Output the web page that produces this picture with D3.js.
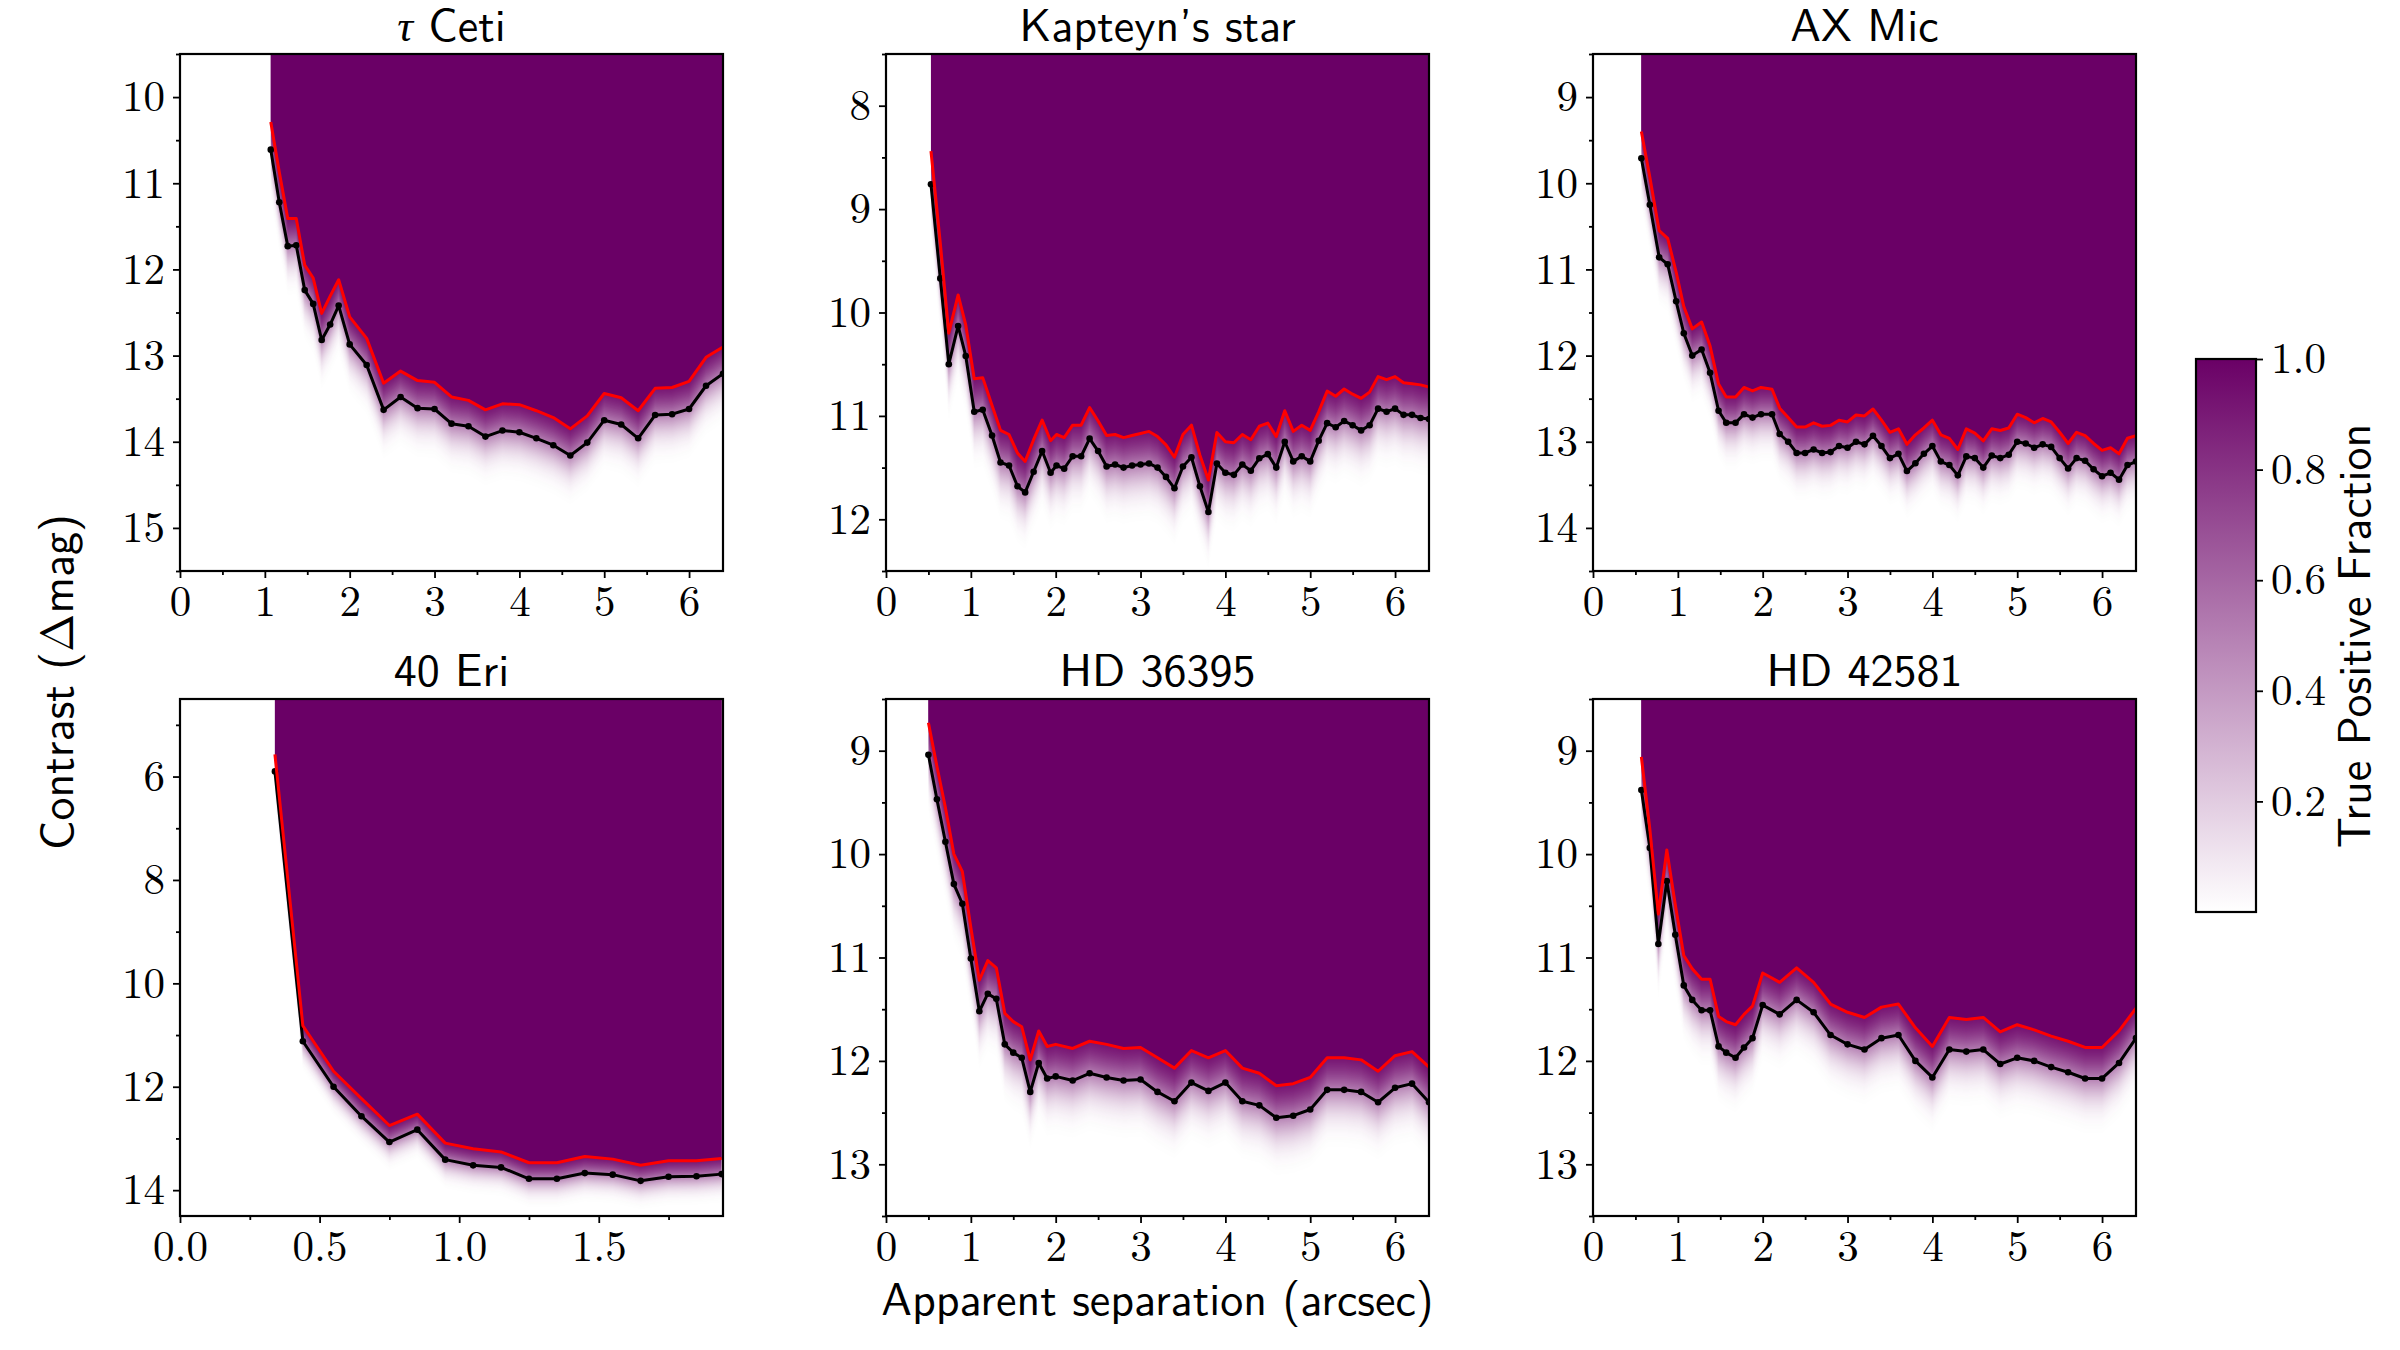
<!DOCTYPE html>
<html>
<head>
<meta charset="utf-8">
<script src="https://cdn.jsdelivr.net/npm/d3@7"></script>
<style>
  body { margin: 0; background: #fff; }
  svg { display: block; }
</style>
</head>
<body>
<div id="chart"></div>
<script>
// ---- data ----
const panelNames = ["τ Ceti", "Kapteyn’s star", "AX Mic", "40 Eri", "HD 36395", "HD 42581"];

// tau Ceti
const tauCetiSep   = [1.07,1.17,1.27,1.37,1.47,1.57,1.67,1.77,1.87,2.0,2.2,2.4,2.6,2.8,3.0,3.2,3.4,3.6,3.8,4.0,4.2,4.4,4.6,4.8,5.0,5.2,5.4,5.6,5.8,6.0,6.2,6.4];
const tauCetiBlack = [10.61,11.22,11.73,11.72,12.24,12.40,12.82,12.64,12.42,12.87,13.11,13.63,13.48,13.61,13.62,13.79,13.82,13.94,13.87,13.89,13.96,14.04,14.16,14.01,13.75,13.80,13.96,13.69,13.68,13.62,13.35,13.21];
const tauCetiRed   = [10.29,10.87,11.41,11.41,11.95,12.10,12.51,12.31,12.12,12.55,12.80,13.32,13.18,13.29,13.31,13.48,13.52,13.63,13.56,13.57,13.64,13.72,13.85,13.70,13.44,13.49,13.64,13.38,13.37,13.30,13.02,12.90];

// Kapteyn's star
const kapteynSep   = [0.53,0.64,0.74,0.85,0.94,1.04,1.14,1.25,1.35,1.45,1.55,1.64,1.74,1.84,1.94,2.01,2.1,2.2,2.3,2.4,2.5,2.6,2.7,2.8,2.9,3.0,3.1,3.2,3.3,3.4,3.5,3.6,3.7,3.8,3.9,4.0,4.1,4.2,4.3,4.4,4.5,4.6,4.7,4.8,4.9,5.0,5.1,5.2,5.3,5.4,5.5,5.6,5.7,5.8,5.9,6.0,6.1,6.2,6.3,6.4];
const kapteynBlack = [8.76,9.67,10.50,10.13,10.42,10.96,10.94,11.19,11.45,11.48,11.68,11.74,11.54,11.34,11.55,11.48,11.51,11.39,11.39,11.22,11.34,11.49,11.47,11.50,11.48,11.47,11.46,11.50,11.59,11.70,11.49,11.40,11.68,11.93,11.46,11.55,11.57,11.47,11.53,11.41,11.37,11.50,11.25,11.44,11.39,11.44,11.24,11.07,11.11,11.05,11.09,11.14,11.09,10.93,10.96,10.93,10.99,10.99,11.02,11.03];
const kapteynRed   = [8.44,9.33,10.20,9.83,10.12,10.64,10.63,10.90,11.14,11.18,11.36,11.44,11.23,11.04,11.24,11.18,11.21,11.09,11.09,10.92,11.05,11.19,11.18,11.21,11.19,11.17,11.15,11.20,11.28,11.40,11.18,11.09,11.38,11.62,11.16,11.25,11.26,11.18,11.23,11.10,11.07,11.20,10.95,11.15,11.09,11.14,10.96,10.76,10.81,10.74,10.79,10.83,10.77,10.62,10.65,10.62,10.68,10.69,10.70,10.72];

// AX Mic
const axMicSep   = [0.57,0.67,0.78,0.88,0.98,1.07,1.17,1.28,1.38,1.48,1.57,1.68,1.78,1.88,1.98,2.11,2.2,2.3,2.4,2.5,2.6,2.7,2.8,2.9,3.0,3.1,3.2,3.3,3.4,3.5,3.6,3.7,3.8,3.9,4.0,4.1,4.2,4.3,4.4,4.5,4.6,4.7,4.8,4.9,5.0,5.1,5.2,5.3,5.4,5.5,5.6,5.7,5.8,5.9,6.0,6.1,6.2,6.3,6.4];
const axMicBlack = [9.71,10.25,10.86,10.94,11.37,11.74,12.00,11.93,12.20,12.64,12.78,12.78,12.68,12.72,12.68,12.68,12.91,13.00,13.13,13.13,13.09,13.13,13.12,13.05,13.07,13.00,13.03,12.93,13.05,13.19,13.14,13.34,13.25,13.14,13.05,13.23,13.27,13.39,13.17,13.19,13.30,13.16,13.19,13.15,13.00,13.02,13.07,13.03,13.06,13.19,13.31,13.19,13.22,13.32,13.40,13.36,13.44,13.27,13.23];
const axMicRed   = [9.40,9.93,10.55,10.64,11.03,11.43,11.69,11.61,11.89,12.33,12.48,12.48,12.37,12.41,12.37,12.39,12.61,12.72,12.83,12.83,12.78,12.82,12.81,12.75,12.77,12.69,12.70,12.62,12.75,12.89,12.85,13.03,12.92,12.84,12.75,12.92,12.96,13.09,12.85,12.90,12.99,12.85,12.87,12.84,12.68,12.72,12.78,12.73,12.77,12.89,13.02,12.89,12.93,13.02,13.10,13.07,13.14,12.96,12.93];

// 40 Eri
const eri40Sep   = [0.34,0.44,0.55,0.65,0.75,0.85,0.95,1.05,1.15,1.25,1.35,1.45,1.55,1.65,1.75,1.85,1.94];
const eri40Black = [5.90,11.12,12.00,12.57,13.07,12.83,13.41,13.52,13.56,13.78,13.78,13.67,13.70,13.82,13.74,13.73,13.69];
const eri40Red   = [5.57,10.82,11.70,12.23,12.75,12.53,13.09,13.20,13.26,13.47,13.47,13.35,13.40,13.52,13.43,13.43,13.39];

// HD 36395
const hd36395Sep   = [0.50,0.60,0.70,0.80,0.90,1.0,1.1,1.2,1.3,1.4,1.5,1.6,1.7,1.8,1.9,2.0,2.2,2.4,2.6,2.8,3.0,3.2,3.4,3.6,3.8,4.0,4.2,4.4,4.6,4.8,5.0,5.2,5.4,5.6,5.8,6.0,6.2,6.4];
const hd36395Black = [9.04,9.47,9.88,10.29,10.48,11.01,11.52,11.35,11.40,11.84,11.92,11.97,12.30,12.02,12.17,12.15,12.19,12.12,12.16,12.19,12.18,12.30,12.39,12.21,12.29,12.21,12.39,12.43,12.55,12.53,12.47,12.28,12.28,12.30,12.40,12.26,12.22,12.40];
const hd36395Red   = [8.73,9.15,9.55,10.00,10.17,10.71,11.22,11.03,11.10,11.54,11.62,11.67,11.99,11.71,11.86,11.84,11.88,11.81,11.84,11.88,11.87,11.97,12.07,11.90,11.97,11.90,12.07,12.12,12.24,12.22,12.16,11.97,11.97,11.99,12.10,11.95,11.91,12.06];

// HD 42581
const hd42581Sep   = [0.57,0.67,0.77,0.87,0.97,1.07,1.17,1.28,1.38,1.48,1.57,1.68,1.78,1.88,2.0,2.2,2.4,2.6,2.8,3.0,3.2,3.4,3.6,3.8,4.0,4.2,4.4,4.6,4.8,5.0,5.2,5.4,5.6,5.8,6.0,6.2,6.4];
const hd42581Black = [9.38,9.94,10.87,10.26,10.78,11.27,11.41,11.51,11.51,11.86,11.92,11.97,11.87,11.78,11.46,11.55,11.41,11.53,11.75,11.84,11.89,11.78,11.75,12.00,12.16,11.89,11.91,11.89,12.03,11.97,12.00,12.06,12.11,12.17,12.17,12.02,11.78];
const hd42581Red   = [9.06,9.76,10.58,9.96,10.49,10.98,11.11,11.21,11.21,11.57,11.62,11.65,11.55,11.47,11.15,11.24,11.10,11.24,11.45,11.53,11.58,11.48,11.45,11.68,11.86,11.58,11.60,11.58,11.72,11.65,11.70,11.76,11.81,11.87,11.87,11.71,11.49];

// axis ranges and tick labels
const xDomains = [[0, 6.4], [0, 6.4], [0, 6.4], [0, 1.945], [0, 6.4], [0, 6.4]];
const yDomains = [[9.5, 15.5], [7.5, 12.5], [8.5, 14.5], [4.5, 14.5], [8.5, 13.5], [8.5, 13.5]];
const xTicksSep = [0, 1, 2, 3, 4, 5, 6];
const xTicks40Eri = [0.0, 0.5, 1.0, 1.5];
const yTickLists = [
  [10, 11, 12, 13, 14, 15],
  [8, 9, 10, 11, 12],
  [9, 10, 11, 12, 13, 14],
  [6, 8, 10, 12, 14],
  [9, 10, 11, 12, 13],
  [9, 10, 11, 12, 13]
];
const colorbarTicks = [0.2, 0.4, 0.6, 0.8, 1.0];

// ---- layout ----
const W = 2400, H = 1350;
const colX = [180, 886, 1593], rowY = [54, 699];
const pw = 543, ph = 517;
const purple = "#6a0066";
const sansFont = "Latin Modern Sans, DejaVu Sans, sans-serif";
const sansSize = 46;
const serifFont = "Latin Modern Roman, Liberation Serif, serif";
const tickSize = 43;

const panels = panelNames.map((name, i) => ({
  name: name,
  sep: [tauCetiSep, kapteynSep, axMicSep, eri40Sep, hd36395Sep, hd42581Sep][i],
  black: [tauCetiBlack, kapteynBlack, axMicBlack, eri40Black, hd36395Black, hd42581Black][i],
  red: [tauCetiRed, kapteynRed, axMicRed, eri40Red, hd36395Red, hd42581Red][i],
  xDomain: xDomains[i],
  yDomain: yDomains[i],
  xTicks: i === 3 ? xTicks40Eri : xTicksSep,
  yTicks: yTickLists[i]
}));

const svg = d3.select("#chart")
  .append("svg")
  .attr("width", W)
  .attr("height", H);

const defs = svg.append("defs");

function minorTicks(domain, majors) {
  const step = (majors[1] - majors[0]) / 2;
  const out = [];
  for (let v = Math.ceil(domain[0] / step) * step; v <= domain[1] + 1e-9; v += step) {
    if (!majors.some(m => Math.abs(m - v) < 1e-6)) out.push(+v.toFixed(4));
  }
  return out;
}

function styleAxis(sel) {
  sel.attr("font-family", serifFont).attr("font-size", tickSize);
  sel.select(".domain").remove();
  sel.selectAll(".tick line").attr("stroke", "#000").attr("stroke-width", 1.8);
  sel.selectAll(".tick text").attr("fill", "#000");
}

panels.forEach((p, i) => {
  const col = i % 3, row = Math.floor(i / 3);
  const g = svg.append("g")
    .attr("transform", `translate(${colX[col]},${rowY[row]})`);

  const x = d3.scaleLinear().domain(p.xDomain).range([0, pw]);
  const y = d3.scaleLinear().domain(p.yDomain).range([0, ph]);

  const pts = p.sep.map((s, k) => ({ sep: s, black: p.black[k], red: p.red[k] }));

  defs.append("clipPath").attr("id", `clip${i}`)
    .append("rect").attr("width", pw).attr("height", ph);

  // vertical-only blur turns the hard edge into the fading detection fraction
  const sigma = d3.mean(pts, d => y(d.black) - y(d.red)) / 1.35;
  defs.append("filter")
    .attr("id", `fade${i}`)
    .attr("filterUnits", "userSpaceOnUse")
    .attr("x", -30).attr("y", -300)
    .attr("width", pw + 60).attr("height", ph + 600)
    .append("feGaussianBlur")
    .attr("stdDeviation", `0 ${sigma.toFixed(2)}`);

  const plot = g.append("g").attr("clip-path", `url(#clip${i})`);

  plot.append("path")
    .datum(pts)
    .attr("fill", purple)
    .attr("filter", `url(#fade${i})`)
    .attr("d", d3.area().x(d => x(d.sep)).y0(-150).y1(d => y(d.black)));

  plot.append("path")
    .datum(pts)
    .attr("fill", purple)
    .attr("d", d3.area().x(d => x(d.sep)).y0(-150).y1(d => y(d.red)));

  // black curve with markers
  plot.append("path")
    .datum(pts)
    .attr("fill", "none")
    .attr("stroke", "#000")
    .attr("stroke-width", 3)
    .attr("stroke-linejoin", "round")
    .attr("d", d3.line().x(d => x(d.sep)).y(d => y(d.black)));

  plot.selectAll(".dot")
    .data(pts)
    .join("circle")
    .attr("class", "dot")
    .attr("cx", d => x(d.sep))
    .attr("cy", d => y(d.black))
    .attr("r", 3.3)
    .attr("fill", "#000");

  // red curve
  plot.append("path")
    .datum(pts)
    .attr("fill", "none")
    .attr("stroke", "#ff0000")
    .attr("stroke-width", 3)
    .attr("stroke-linejoin", "round")
    .attr("d", d3.line().x(d => x(d.sep)).y(d => y(d.red)));

  // axes
  const xFmt = i === 3 ? d3.format(".1f") : d3.format("d");
  g.append("g")
    .attr("transform", `translate(0,${ph})`)
    .call(d3.axisBottom(x).tickValues(minorTicks(p.xDomain, p.xTicks)).tickSize(4).tickFormat(""))
    .call(styleAxis);
  g.append("g")
    .attr("transform", `translate(0,${ph})`)
    .call(d3.axisBottom(x).tickValues(p.xTicks).tickSize(7).tickPadding(7.5).tickFormat(xFmt))
    .call(styleAxis);

  g.append("g")
    .call(d3.axisLeft(y).tickValues(minorTicks(p.yDomain, p.yTicks)).tickSize(4).tickFormat(""))
    .call(styleAxis);
  g.append("g")
    .call(d3.axisLeft(y).tickValues(p.yTicks).tickSize(7).tickPadding(8).tickFormat(d3.format("d")))
    .call(styleAxis);

  // frame
  g.append("rect")
    .attr("width", pw)
    .attr("height", ph)
    .attr("fill", "none")
    .attr("stroke", "#000")
    .attr("stroke-width", 2.2);

  // title
  const title = g.append("text")
    .attr("x", pw / 2)
    .attr("y", -13)
    .attr("text-anchor", "middle")
    .attr("font-family", sansFont)
    .attr("font-size", sansSize)
    .attr("fill", "#000");
  if (p.name.startsWith("τ")) {
    title.append("tspan")
      .attr("font-family", "Liberation Serif, serif")
      .attr("font-style", "italic")
      .attr("font-size", 44)
      .text("τ");
    title.append("tspan").text(p.name.slice(1));
  } else {
    title.text(p.name);
  }
});

// shared axis labels
svg.append("text")
  .attr("x", colX[1] + pw / 2)
  .attr("y", 1315)
  .attr("text-anchor", "middle")
  .attr("font-family", sansFont)
  .attr("font-size", sansSize)
  .text("Apparent separation (arcsec)");

const ylab = svg.append("text")
  .attr("transform", "translate(73,682) rotate(-90)")
  .attr("text-anchor", "middle")
  .attr("font-family", sansFont)
  .attr("font-size", sansSize);
ylab.append("tspan").text("Contrast (");
ylab.append("tspan").attr("font-family", serifFont).text("Δ");
ylab.append("tspan").text("mag)");

// colorbar
const cbX = 2196, cbY = 359, cbW = 60, cbH = 553;
const grad = defs.append("linearGradient")
  .attr("id", "cbgrad")
  .attr("x1", 0).attr("y1", 1).attr("x2", 0).attr("y2", 0);
const cmap = d3.interpolateRgb("#ffffff", purple);
[0, 0.25, 0.5, 0.75, 1].forEach(t => {
  grad.append("stop").attr("offset", t).attr("stop-color", cmap(t));
});

const cb = svg.append("g").attr("transform", `translate(${cbX},${cbY})`);
const cbScale = d3.scaleLinear().domain([0, 1]).range([cbH, 0]);
cb.append("rect")
  .attr("width", cbW)
  .attr("height", cbH)
  .attr("fill", "url(#cbgrad)");
cb.append("g")
  .attr("transform", `translate(${cbW},0)`)
  .call(d3.axisRight(cbScale).tickValues(colorbarTicks).tickSize(7).tickPadding(8).tickFormat(d3.format(".1f")))
  .call(styleAxis);
cb.append("rect")
  .attr("width", cbW)
  .attr("height", cbH)
  .attr("fill", "none")
  .attr("stroke", "#000")
  .attr("stroke-width", 2.2);

svg.append("text")
  .attr("transform", "translate(2370,636) rotate(-90)")
  .attr("text-anchor", "middle")
  .attr("font-family", sansFont)
  .attr("font-size", sansSize)
  .text("True Positive Fraction");
</script>
</body>
</html>
